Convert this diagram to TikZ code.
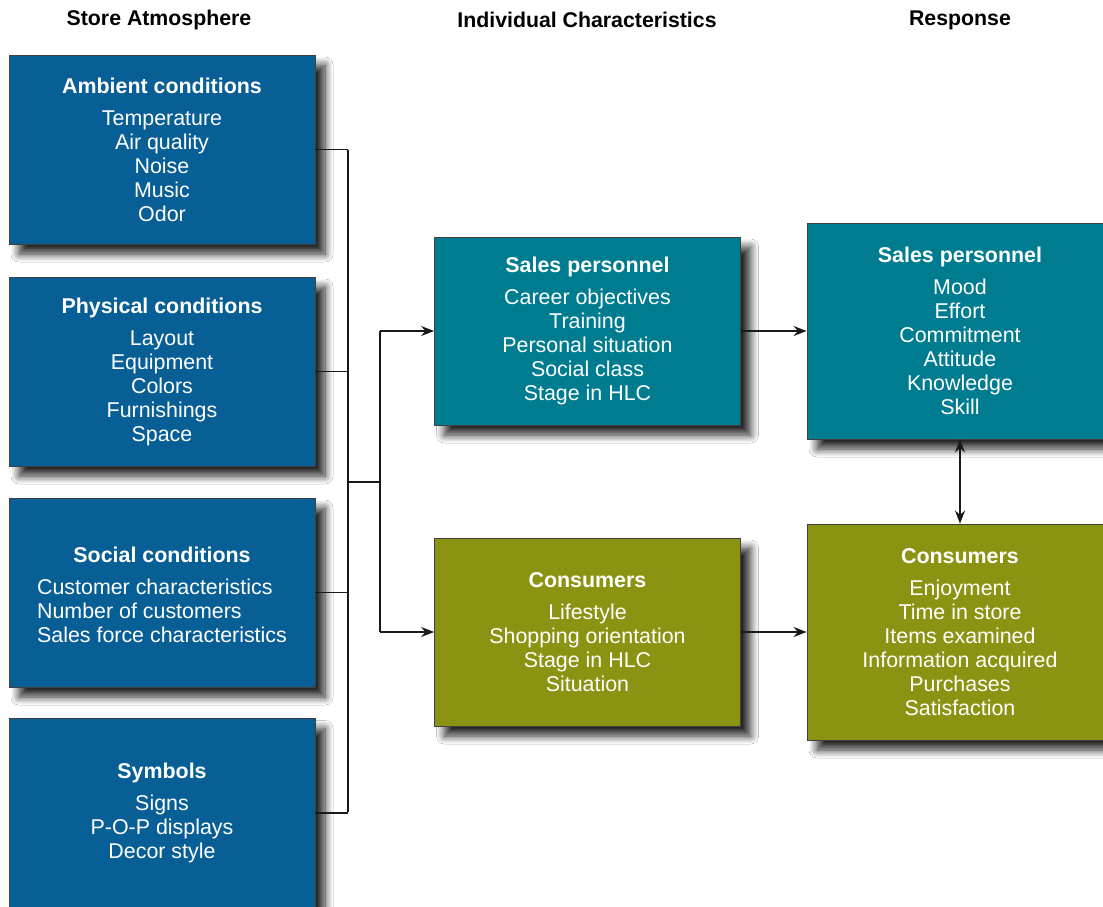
\documentclass[tikz,border=0pt]{standalone}
\usepackage{fontspec}
\setmainfont{Liberation Sans}
\usetikzlibrary{arrows.meta,shadows.blur}
\definecolor{boxblue}{RGB}{8,95,150}
\definecolor{boxteal}{RGB}{0,124,145}
\definecolor{boxolive}{RGB}{138,148,18}
\tikzset{
  box/.style={draw=black!75, line width=0.8pt, text=white, align=center,
    minimum width=306pt, inner sep=0pt,
    font=\fontsize{21.4}{24}\selectfont,
    blur shadow={shadow xshift=10pt, shadow yshift=-10pt, shadow blur radius=8pt, shadow opacity=85, shadow blur steps=10}},
  leftbox/.style={box, fill=boxblue, minimum height=189pt},
  midbox/.style={box, minimum height=188pt},
  rightbox/.style={box, minimum height=216pt},
  head/.style={font=\fontsize{21.3}{24}\selectfont\bfseries},
  conn/.style={draw=black!90, line width=1.6pt},
  arr/.style={conn, -{Stealth[length=13pt,width=10pt]}},
  darr/.style={conn, {Stealth[length=13pt,width=10pt]}-{Stealth[length=13pt,width=10pt]}},
}
\newcommand{\ttl}[1]{\textbf{#1}\\[8pt]}
\begin{document}
\begin{tikzpicture}[x=1pt,y=-1pt]
\useasboundingbox (0,0) rectangle (1103,907);
\fill[white] (0,0) rectangle (1103,907);

% headers
\node[head] (h1) at (159,20) {Store Atmosphere};
\node[head] (h2) at (587,20) {Individual Characteristics};
\node[head] (h3) at (960,20) {Response};

% left column
\node[leftbox] (amb) at (162,149.5) {\ttl{Ambient conditions}Temperature\\Air quality\\Noise\\Music\\Odor};
\node[leftbox] (phy) at (162,371.5) {\ttl{Physical conditions}Layout\\Equipment\\Colors\\Furnishings\\Space};
\node[leftbox] (soc) at (162,592.5) {\rule{0pt}{27pt}\ttl{Social conditions}\begin{tabular}[t]{@{}l@{}}Customer characteristics\\Number of customers\\Sales force characteristics\end{tabular}};
\node[leftbox] (sym) at (162,813) {\ttl{Symbols}Signs\\P-O-P displays\\Decor style};

% middle column
\node[midbox, fill=boxteal] (msp) at (587.5,331) {\ttl{Sales personnel}Career objectives\\Training\\Personal situation\\Social class\\Stage in HLC};
\node[midbox, fill=boxolive] (mco) at (587.5,632) {\ttl{Consumers}Lifestyle\\Shopping orientation\\Stage in HLC\\Situation};

% right column
\node[rightbox, fill=boxteal] (rsp) at (960,331) {\ttl{Sales personnel}Mood\\Effort\\Commitment\\Attitude\\Knowledge\\Skill};
\node[rightbox, fill=boxolive] (rco) at (960,632) {\ttl{Consumers}Enjoyment\\Time in store\\Items examined\\Information acquired\\Purchases\\Satisfaction};

% bus coordinates
\coordinate (btop) at (348,150);
\coordinate (bbot) at (348,812);
\coordinate (bj) at (348,482);
\coordinate (sj) at (380,482);
\coordinate (stop) at (380,331);
\coordinate (sbot) at (380,632);

\draw[conn] (amb.east) -- (amb.east -| btop);
\draw[conn] (phy.east) -- (phy.east -| btop);
\draw[conn] (soc.east) -- (soc.east -| btop);
\draw[conn] (sym.east) -- (sym.east -| btop);
\draw[conn] (btop) -- (bbot);
\draw[conn] (bj) -- (sj);
\draw[conn] (stop) -- (sbot);
\draw[arr] (stop) -- (msp.west);
\draw[arr] (sbot) -- (mco.west);
\draw[arr] (msp.east) -- (rsp.west);
\draw[arr] (mco.east) -- (rco.west);
\draw[darr] (rsp.south) -- (rco.north);
\end{tikzpicture}
\end{document}
